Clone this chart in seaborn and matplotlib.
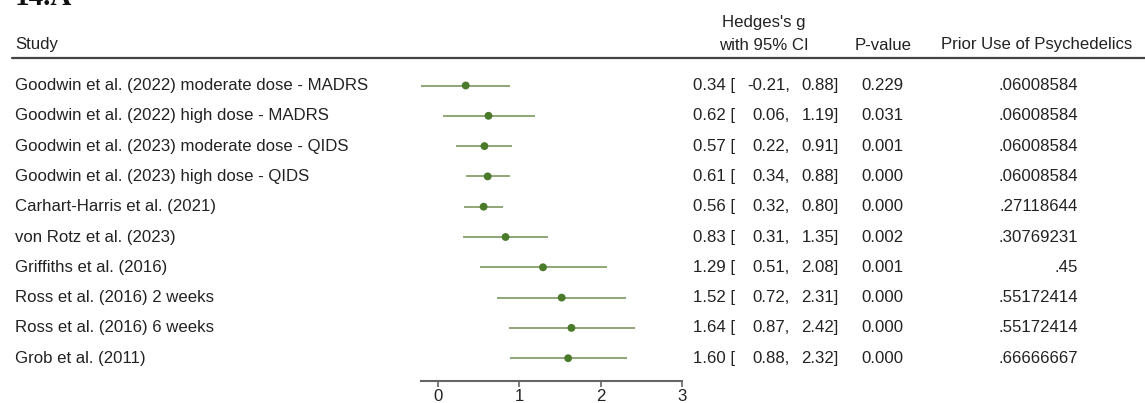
import matplotlib
matplotlib.use("Agg")
import matplotlib.pyplot as plt
import matplotlib.transforms as mtransforms
import numpy as np
import pandas as pd
import seaborn as sns

studies = [
    "Goodwin et al. (2022) moderate dose - MADRS",
    "Goodwin et al. (2022) high dose - MADRS",
    "Goodwin et al. (2023) moderate dose - QIDS",
    "Goodwin et al. (2023) high dose - QIDS",
    "Carhart-Harris et al. (2021)",
    "von Rotz et al. (2023)",
    "Griffiths et al. (2016)",
    "Ross et al. (2016) 2 weeks",
    "Ross et al. (2016) 6 weeks",
    "Grob et al. (2011)",
]
hedges_g = [0.34, 0.62, 0.57, 0.61, 0.56, 0.83, 1.29, 1.52, 1.64, 1.60]
ci_low = [-0.21, 0.06, 0.22, 0.34, 0.32, 0.31, 0.51, 0.72, 0.87, 0.88]
ci_high = [0.88, 1.19, 0.91, 0.88, 0.80, 1.35, 2.08, 2.31, 2.42, 2.32]
p_values = ["0.229", "0.031", "0.001", "0.000", "0.000", "0.002", "0.001", "0.000", "0.000", "0.000"]
prior_use = [".06008584", ".06008584", ".06008584", ".06008584", ".27118644",
             ".30769231", ".45", ".55172414", ".55172414", ".66666667"]
x_ticks = [0, 1, 2, 3]

df = pd.DataFrame({"study": studies, "g": hedges_g, "lo": ci_low, "hi": ci_high,
                   "row": np.arange(len(studies))})

sns.set_theme(style="white")
plt.rcParams["font.family"] = ["Liberation Sans", "DejaVu Sans"]

W, H = 1145, 403
fig = plt.figure(figsize=(W / 100, H / 100), dpi=100)


def fx(px):
    return px / W


def fy(py):
    return 1 - py / H


# forest panel: left edge at the lowest CI bound, right edge at the last tick
ax = fig.add_axes([fx(421), fy(381), fx(682) - fx(421), fy(58) - fy(381)])
row0, step = 85.5, 30.3
ax.set_ylim((381 - row0) / step, (58 - row0) / step)
ax.set_xlim(min(ci_low), max(x_ticks))

line_col = "#86a06c"
dot_col = "#4a7a2a"
txt_col = "#222222"
fs = 12.1

ax.hlines(df["row"], df["lo"], df["hi"], color=line_col, lw=1.3, zorder=2)
sns.scatterplot(data=df, x="g", y="row", ax=ax, color=dot_col, s=32,
                edgecolor="none", zorder=3, legend=False)

for s in ["top", "right", "left"]:
    ax.spines[s].set_visible(False)
ax.spines["bottom"].set_color("#666666")
ax.spines["bottom"].set_linewidth(1.5)
ax.set_xticks(x_ticks)
ax.set_xticklabels([str(t) for t in x_ticks])
ax.set_yticks([])
ax.set_xlabel("")
ax.set_ylabel("")
ax.tick_params(axis="x", direction="out", length=4, width=1.2, color="#666666",
               labelsize=fs, labelcolor=txt_col, pad=1.5, bottom=True)
ax.patch.set_alpha(0)

# table columns, placed by figure x and data row
tr = mtransforms.blended_transform_factory(fig.transFigure, ax.transData)
for i, r in df.iterrows():
    ax.text(fx(15), r["row"], r["study"], transform=tr, ha="left", va="center",
            fontsize=fs, color=txt_col, clip_on=False)
    ax.text(fx(735), r["row"], f"{r['g']:.2f} [", transform=tr, ha="right",
            va="center", fontsize=fs, color=txt_col, clip_on=False)
    ax.text(fx(790), r["row"], f"{r['lo']:.2f},", transform=tr, ha="right",
            va="center", fontsize=fs, color=txt_col, clip_on=False)
    ax.text(fx(839), r["row"], f"{r['hi']:.2f}]", transform=tr, ha="right",
            va="center", fontsize=fs, color=txt_col, clip_on=False)
    ax.text(fx(882), r["row"], p_values[i], transform=tr, ha="center",
            va="center", fontsize=fs, color=txt_col, clip_on=False)
    ax.text(fx(1078), r["row"], prior_use[i], transform=tr, ha="right",
            va="center", fontsize=fs, color=txt_col, clip_on=False)

# header
fig.text(fx(15), fy(45), "Study", ha="left", va="center", fontsize=fs, color=txt_col)
fig.text(fx(764), fy(22), "Hedges's g", ha="center", va="center", fontsize=fs, color=txt_col)
fig.text(fx(764), fy(45), "with 95% CI", ha="center", va="center", fontsize=fs, color=txt_col)
fig.text(fx(883), fy(45), "P-value", ha="center", va="center", fontsize=fs, color=txt_col)
fig.text(fx(1037), fy(45), "Prior Use of Psychedelics", ha="center", va="center",
         fontsize=fs, color=txt_col)
fig.add_artist(plt.Line2D([fx(12), 1.0], [fy(58), fy(58)], transform=fig.transFigure,
                          color="#444444", lw=1.6))

# panel label
fig.text(fx(15), fy(5), "14.A", ha="left", va="baseline", fontsize=21,
         fontweight="bold", family=["Liberation Serif", "DejaVu Serif"], color="#111111")

fig.savefig("out.png", dpi=100)
